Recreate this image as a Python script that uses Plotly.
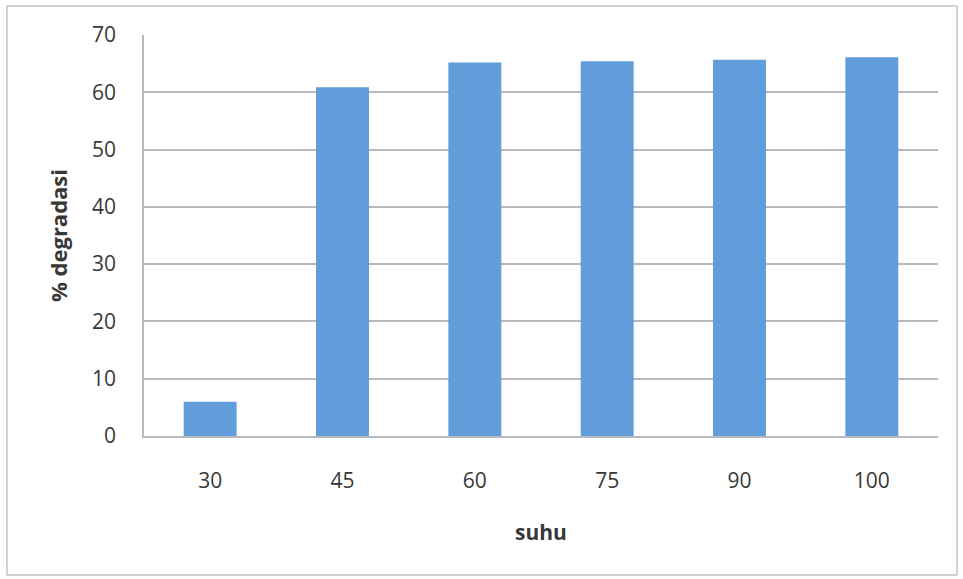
import plotly.graph_objects as go

# Temperature (suhu) vs percent degradation
suhu = ["30", "45", "60", "75", "90", "100"]
degradasi = [6.0, 60.9, 65.2, 65.4, 65.7, 66.1]
y_ticks = [0, 10, 20, 30, 40, 50, 60, 70]

FONT = "'Open Sans', sans-serif"
TEXT = "#383838"
GRID = "#b8b8c0"

fig = go.Figure(
    go.Bar(
        x=suhu,
        y=degradasi,
        marker=dict(color="#619dda", line=dict(width=0)),
    )
)

fig.update_layout(
    width=963,
    height=579,
    margin=dict(l=144, r=25, t=35, b=143),
    paper_bgcolor="white",
    plot_bgcolor="white",
    bargap=0.6,
    showlegend=False,
    font=dict(family=FONT, size=21, color=TEXT),
)

fig.update_xaxes(
    type="category",
    showgrid=False,
    showline=True,
    linecolor=GRID,
    linewidth=1.5,
    ticks="",
    ticklabelstandoff=25,
    tickfont=dict(size=21, color=TEXT),
)

fig.update_yaxes(
    range=[0, 70],
    tickvals=y_ticks,
    showgrid=True,
    gridcolor=GRID,
    gridwidth=1.5,
    showline=True,
    linecolor=GRID,
    linewidth=1.5,
    zeroline=False,
    ticks="",
    ticklabelstandoff=22,
    tickfont=dict(size=21, color=TEXT),
)

# Axis titles
fig.add_annotation(
    text="<b>suhu</b>", xref="paper", yref="paper",
    x=(541 - 144) / (963 - 144 - 25), y=-(532 - 436) / (436 - 35),
    showarrow=False, font=dict(size=21, color=TEXT, family=FONT),
    xanchor="center", yanchor="middle",
)
fig.add_annotation(
    text="<b>% degradasi</b>", xref="paper", yref="paper",
    x=-(144 - 58) / (963 - 144 - 25), y=(436 - 236) / (436 - 35),
    showarrow=False, textangle=-90, font=dict(size=22, color=TEXT, family=FONT),
    xanchor="center", yanchor="middle",
)

# Light chart-area border
fig.add_shape(
    type="rect", xref="paper", yref="paper",
    x0=-(144 - 7) / (963 - 144 - 25), x1=1 + (957 - 938) / (963 - 144 - 25),
    y0=-(575 - 436) / (436 - 35), y1=1 + (35 - 6) / (436 - 35),
    line=dict(color="#c4c4c8", width=1.5), fillcolor="rgba(0,0,0,0)",
    layer="below",
)

fig.write_html("out.html")
